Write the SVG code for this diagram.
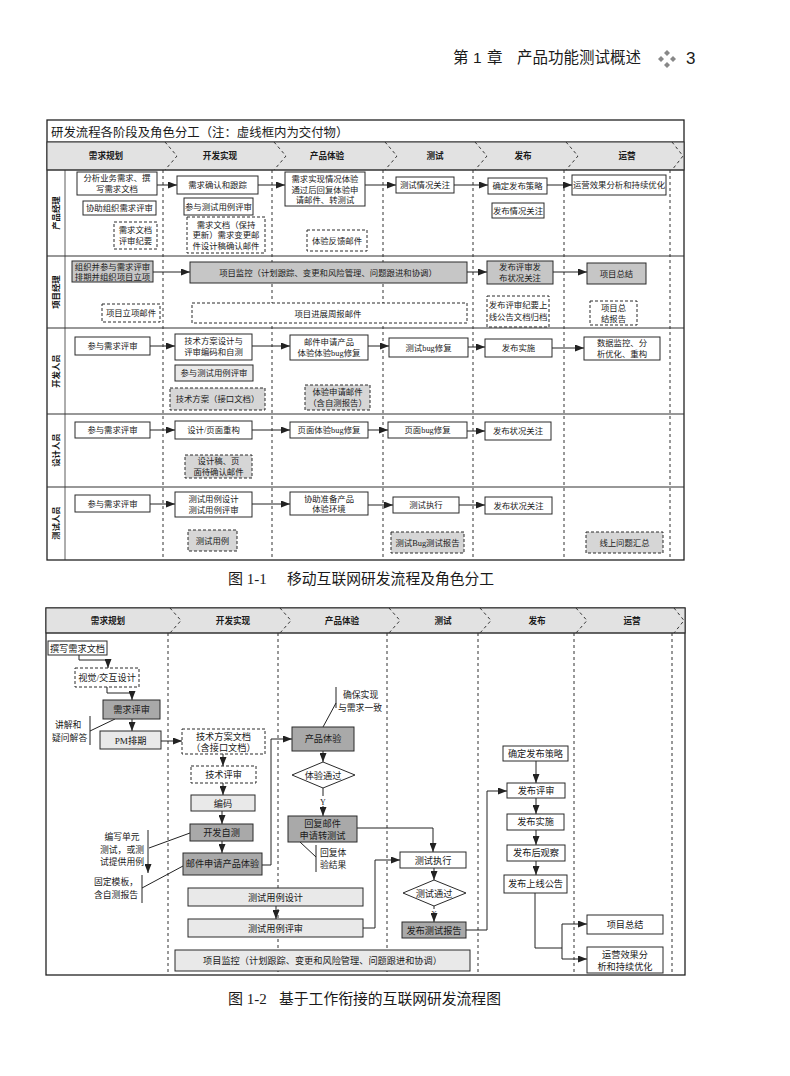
<svg xmlns="http://www.w3.org/2000/svg" width="790" height="1076" viewBox="0 0 790 1076">
<style>
text{font-family:"Liberation Serif","Noto Sans CJK SC",serif;fill:#1a1a1a}
.t{font-size:8.4px;text-anchor:middle}
.t2{font-size:9.2px;text-anchor:middle}
.h{font-family:"Noto Sans CJK SC",sans-serif;font-size:8.6px;font-weight:bold;text-anchor:middle}
.rl{font-family:"Noto Sans CJK SC",sans-serif;font-size:8.4px;font-weight:bold;text-anchor:middle}
.a{font-size:8.8px}
.ph{font-family:"Noto Sans CJK SC",sans-serif;font-size:15.5px}
.b{fill:#fff;stroke:#2a2a2a;stroke-width:1}
.bd{fill:#fff;stroke:#2a2a2a;stroke-width:1;stroke-dasharray:3,2}
.g1{fill:#e9e9e9;stroke:#2a2a2a;stroke-width:1}
.g2{fill:#c6c6c6;stroke:#2a2a2a;stroke-width:1}
.g3{fill:#a9a9a9;stroke:#2a2a2a;stroke-width:1}
.gd{fill:#d6d6d6;stroke:#2a2a2a;stroke-width:1;stroke-dasharray:3,2}
.fr{fill:none;stroke:#222;stroke-width:1.3}
.hd{fill:#e2e2e2;stroke:#333;stroke-width:1}
.dv{fill:none;stroke:#333;stroke-width:1;stroke-dasharray:3,3}
.ln{fill:none;stroke:#333;stroke-width:0.8}
.c{fill:none;stroke:#222;stroke-width:1;marker-end:url(#ar)}
.cn{fill:none;stroke:#222;stroke-width:1}
</style>
<defs>
<marker id="ar" markerUnits="userSpaceOnUse" markerWidth="9" markerHeight="7" refX="9" refY="3.5" orient="auto"><path d="M0,0 L9,3.5 L0,7 z" fill="#222"/></marker>
</defs>
<rect width="790" height="1076" fill="#fff"/>

<!-- page header -->
<g id="page-header">
<text class="ph" x="453" y="63">第</text>
<text class="ph" x="473" y="63" style="font-family:'Liberation Sans',sans-serif">1</text>
<text class="ph" x="487" y="63">章</text>
<text class="ph" x="517" y="63">产品功能测试概述</text>
<g fill="#888"><path d="M667,50 l3,3 l-3,3 l-3,-3z"/><path d="M661,56 l3,3 l-3,3 l-3,-3z"/><path d="M673,56 l3,3 l-3,3 l-3,-3z"/><path d="M667,62 l3,3 l-3,3 l-3,-3z"/></g>
<text x="686" y="64" style="font-family:'Liberation Sans',sans-serif;font-size:17px">3</text>
</g>

<!-- ================= FIGURE 1 ================= -->
<g id="fig1-frame">
<rect class="fr" x="47" y="120" width="637" height="440"/>
<line class="ln" x1="47" y1="142" x2="684" y2="142" style="stroke-width:1.2"/>
<text x="51" y="137" style="font-family:'Noto Sans CJK SC',sans-serif;font-size:12.4px">研发流程各阶段及角色分工（注：虚线框内为交付物）</text>
<rect class="hd" x="47" y="142" width="637" height="28"/>
<line class="ln" x1="47" y1="170" x2="684" y2="170" style="stroke-width:1.2"/>
<line class="ln" x1="65" y1="170" x2="65" y2="560"/>
<line class="ln" x1="47" y1="256" x2="684" y2="256" style="stroke-width:1.1"/>
<line class="ln" x1="47" y1="328" x2="684" y2="328" style="stroke-width:1.1"/>
<line class="ln" x1="47" y1="414" x2="684" y2="414" style="stroke-width:1.1"/>
<line class="ln" x1="47" y1="487" x2="684" y2="487" style="stroke-width:1.1"/>
<path class="dv" d="M165,142 L177,156 L165,170 M163,170 V560"/>
<path class="dv" d="M274,142 L286,156 L274,170 M272,170 V560"/>
<path class="dv" d="M385,142 L397,156 L385,170 M383,170 V560"/>
<path class="dv" d="M475,142 L487,156 L475,170 M473,170 V560"/>
<path class="dv" d="M566,142 L578,156 L566,170 M564,170 V560"/>
<path class="dv" d="M672,142 L683,156 L672,170 M670,170 V560"/>
<text class="h" x="106" y="159">需求规划</text>
<text class="h" x="220" y="159">开发实现</text>
<text class="h" x="327" y="159">产品体验</text>
<text class="h" x="435" y="159">测试</text>
<text class="h" x="523" y="159">发布</text>
<text class="h" x="627" y="159">运营</text>
<text class="rl" transform="translate(59,213) rotate(-90)">产品经理</text>
<text class="rl" transform="translate(59,292) rotate(-90)">项目经理</text>
<text class="rl" transform="translate(59,371) rotate(-90)">开发人员</text>
<text class="rl" transform="translate(59,450) rotate(-90)">设计人员</text>
<text class="rl" transform="translate(59,523) rotate(-90)">测试人员</text>
</g>

<g id="fig1-connectors">
<path class="c" d="M157,185 H177"/>
<path class="c" d="M258,185 H285"/>
<path class="c" d="M365,185 H396"/>
<path class="c" d="M454,185 H488"/>
<path class="c" d="M547,185 H572"/>
<path class="c" d="M153,272 H190"/>
<path class="c" d="M467,272 H487"/>
<path class="c" d="M553,272 H587"/>
<path class="c" d="M150,346 H175"/>
<path class="c" d="M252,346 H290"/>
<path class="c" d="M368,346 H389"/>
<path class="c" d="M468,347 H485"/>
<path class="c" d="M552,348 H584"/>
<path class="c" d="M150,430 H175"/>
<path class="c" d="M252,430 H290"/>
<path class="c" d="M368,430 H388"/>
<path class="c" d="M467,431 H485"/>
<path class="c" d="M150,504 H175"/>
<path class="c" d="M252,504 H290"/>
<path class="c" d="M368,505 H393"/>
<path class="c" d="M459,505 H485"/>
</g>

<!-- row 1 -->
<g id="n1"><rect class="b" x="77" y="172" width="80" height="23"/><text class="t" x="117" y="181">分析业务需求、撰</text><text class="t" x="117" y="191.5">写需求文档</text></g>
<g id="n2"><rect class="b" x="83" y="201" width="73" height="14"/><text class="t" x="119.5" y="211">协助组织需求评审</text></g>
<g id="n3"><rect class="bd" x="114" y="222" width="43" height="27"/><text class="t" x="135.5" y="233">需求文档</text><text class="t" x="135.5" y="244">评审纪要</text></g>
<g id="n4"><rect class="b" x="177" y="176" width="81" height="18"/><text class="t" x="217.5" y="188">需求确认和跟踪</text></g>
<g id="n5"><rect class="b" x="184" y="198" width="69" height="17"/><text class="t" x="218.5" y="209.5">参与测试用例评审</text></g>
<g id="n6"><rect class="bd" x="187" y="217" width="78" height="36"/><text class="t" x="226" y="227.5">需求文档（保持</text><text class="t" x="226" y="238">更新）需求变更邮</text><text class="t" x="226" y="248.5">件设计稿确认邮件</text></g>
<g id="n7"><rect class="b" x="285" y="172" width="80" height="34"/><text class="t" x="325" y="182">需求实现情况体验</text><text class="t" x="325" y="192.5">通过后回复体验申</text><text class="t" x="325" y="203">请邮件、转测试</text></g>
<g id="n8"><rect class="bd" x="307" y="230" width="60" height="21"/><text class="t" x="337" y="243.5">体验反馈邮件</text></g>
<g id="n9"><rect class="b" x="396" y="177" width="58" height="16"/><text class="t" x="425" y="188">测试情况关注</text></g>
<g id="n10"><rect class="b" x="488" y="178" width="59" height="16"/><text class="t" x="517.5" y="189">确定发布策略</text></g>
<g id="n11"><rect class="b" x="492" y="203" width="52" height="15"/><text class="t" x="518" y="213.5">发布情况关注</text></g>
<g id="n12"><rect class="b" x="572" y="175" width="94" height="20"/><text class="t" x="619" y="188">运营效果分析和持续优化</text></g>

<!-- row 2 -->
<g id="m1"><rect class="g2" x="72" y="261" width="81" height="21"/><text class="t" x="112.5" y="269.5">组织并参与需求评审</text><text class="t" x="112.5" y="279.5">排期并组织项目立项</text></g>
<g id="m2"><rect class="g2" x="190" y="262" width="277" height="21"/><text class="t" x="328" y="275.5">项目监控（计划跟踪、变更和风险管理、问题跟进和协调）</text></g>
<g id="m3"><rect class="g2" x="487" y="261" width="66" height="23"/><text class="t" x="520" y="270">发布评审发</text><text class="t" x="520" y="281">布状况关注</text></g>
<g id="m4"><rect class="g2" x="587" y="263" width="59" height="21"/><text class="t" x="616.5" y="276.5">项目总结</text></g>
<g id="m5"><rect class="bd" x="102" y="304" width="58" height="18"/><text class="t" x="131" y="316">项目立项邮件</text></g>
<g id="m6"><rect class="bd" x="192" y="303" width="275" height="20"/><text class="t" x="328" y="316.5">项目进展周报邮件</text></g>
<g id="m7"><rect class="bd" x="487" y="296" width="62" height="31"/><text class="t" x="518" y="308">发布评审纪要上</text><text class="t" x="518" y="320">线公告文档归档</text></g>
<g id="m8"><rect class="bd" x="590" y="301" width="47" height="24"/><text class="t" x="613.5" y="310.5">项目总</text><text class="t" x="613.5" y="321.5">结报告</text></g>

<!-- row 3 -->
<g id="d1"><rect class="b" x="75" y="337" width="75" height="18"/><text class="t" x="112.5" y="349">参与需求评审</text></g>
<g id="d2"><rect class="b" x="175" y="334" width="77" height="26"/><text class="t" x="213.5" y="344">技术方案设计与</text><text class="t" x="213.5" y="355">评审编码和自测</text></g>
<g id="d3"><rect class="b" x="290" y="335" width="78" height="25"/><text class="t" x="329" y="344.5">邮件申请产品</text><text class="t" x="329" y="355.5">体验体验bug修复</text></g>
<g id="d4"><rect class="b" x="389" y="338" width="79" height="19"/><text class="t" x="428.5" y="350.5">测试bug修复</text></g>
<g id="d5"><rect class="b" x="485" y="339" width="67" height="18"/><text class="t" x="518.5" y="351">发布实施</text></g>
<g id="d6"><rect class="b" x="584" y="337" width="76" height="23"/><text class="t" x="622" y="346">数据监控、分</text><text class="t" x="622" y="357">析优化、重构</text></g>
<g id="d7"><rect class="g1" x="175" y="365" width="78" height="16"/><text class="t" x="214" y="376">参与测试用例评审</text></g>
<g id="d8"><rect class="gd" x="170" y="388" width="95" height="22"/><text class="t" x="217.5" y="402">技术方案（接口文档）</text></g>
<g id="d9"><rect class="gd" x="305" y="385" width="65" height="25"/><text class="t" x="337.5" y="395">体验申请邮件</text><text class="t" x="337.5" y="406">（含自测报告）</text></g>

<!-- row 4 -->
<g id="s1"><rect class="b" x="75" y="422" width="75" height="16"/><text class="t" x="112.5" y="433">参与需求评审</text></g>
<g id="s2"><rect class="b" x="175" y="421" width="77" height="18"/><text class="t" x="213.5" y="433">设计/页面重构</text></g>
<g id="s3"><rect class="b" x="290" y="422" width="78" height="16"/><text class="t" x="329" y="433">页面体验bug修复</text></g>
<g id="s4"><rect class="b" x="388" y="422" width="79" height="16"/><text class="t" x="427.5" y="433">页面bug修复</text></g>
<g id="s5"><rect class="b" x="485" y="422" width="66" height="18"/><text class="t" x="518" y="434">发布状况关注</text></g>
<g id="s6"><rect class="gd" x="185" y="455" width="67" height="23"/><text class="t" x="218.5" y="464">设计稿、页</text><text class="t" x="218.5" y="475">面待确认邮件</text></g>

<!-- row 5 -->
<g id="q1"><rect class="b" x="75" y="495" width="75" height="17"/><text class="t" x="112.5" y="506.5">参与需求评审</text></g>
<g id="q2"><rect class="b" x="175" y="492" width="77" height="25"/><text class="t" x="213.5" y="502">测试用例设计</text><text class="t" x="213.5" y="513">测试用例评审</text></g>
<g id="q3"><rect class="b" x="290" y="492" width="78" height="23"/><text class="t" x="329" y="501.5">协助准备产品</text><text class="t" x="329" y="512">体验环境</text></g>
<g id="q4"><rect class="b" x="393" y="497" width="66" height="16"/><text class="t" x="426" y="508">测试执行</text></g>
<g id="q5"><rect class="b" x="485" y="497" width="67" height="17"/><text class="t" x="518.5" y="508.5">发布状况关注</text></g>
<g id="q6"><rect class="gd" x="188" y="530" width="49" height="21"/><text class="t" x="212.5" y="543.5">测试用例</text></g>
<g id="q7"><rect class="gd" x="391" y="532" width="73" height="21"/><text class="t" x="427.5" y="545.5">测试Bug测试报告</text></g>
<g id="q8"><rect class="gd" x="586" y="532" width="77" height="21"/><text class="t" x="624.5" y="545.5">线上问题汇总</text></g>

<g id="caption1"><text x="228" y="584" style="font-size:15px">图 1-1</text><text x="287" y="584" style="font-family:'Noto Sans CJK SC',sans-serif;font-size:14.8px">移动互联网研发流程及角色分工</text></g>

<!-- ================= FIGURE 2 ================= -->
<g id="fig2-frame">
<rect class="fr" x="46" y="608" width="639" height="367"/>
<rect class="hd" x="46" y="608" width="639" height="25"/>
<line class="ln" x1="46" y1="633" x2="685" y2="633" style="stroke-width:1.2"/>
<path class="dv" d="M170,608 L181,620.5 L170,633 M168,633 V975"/>
<path class="dv" d="M280,608 L291,620.5 L280,633 M278,633 V975"/>
<path class="dv" d="M389,608 L400,620.5 L389,633 M387,633 V975"/>
<path class="dv" d="M480,608 L491,620.5 L480,633 M478,633 V975"/>
<path class="dv" d="M576,608 L587,620.5 L576,633 M574,633 V975"/>
<path class="dv" d="M674,608 L684,620.5 L674,633 M672,633 V975"/>
<text class="h" x="108" y="624">需求规划</text>
<text class="h" x="233" y="624">开发实现</text>
<text class="h" x="342" y="624">产品体验</text>
<text class="h" x="443" y="624">测试</text>
<text class="h" x="537" y="624">发布</text>
<text class="h" x="632" y="624">运营</text>
</g>

<g id="fig2-connectors">
<path class="c" d="M79,655 V660 H108 V668"/>
<path class="c" d="M107,687 V693 H132 V700"/>
<path class="c" d="M132,719 V731"/>
<path class="c" d="M161,741 H182"/>
<path class="c" d="M223,754 V766"/>
<path class="c" d="M223,783 V795"/>
<path class="c" d="M222,811 V824"/>
<path class="c" d="M222,841 V853"/>
<path class="c" d="M262,865 H271 V739 H292"/>
<path class="c" d="M323,751 V762"/>
<path class="cn" d="M323,788 V796"/>
<path class="c" d="M323,806 V816"/>
<path class="c" d="M357,828 H433 V852"/>
<path class="c" d="M434,868 V880"/>
<path class="cn" d="M434,906 V909"/>
<path class="c" d="M434,915 V922"/>
<path class="c" d="M363,928 H375 V860 H400"/>
<path class="c" d="M466,930 H487 V791 H507"/>
<path class="c" d="M536,761 V783"/>
<path class="c" d="M536,798 V814"/>
<path class="c" d="M536,830 V845"/>
<path class="c" d="M536,861 V875"/>
<path class="cn" d="M535,893 V948 H562"/>
<path class="cn" d="M562,924 V959"/>
<path class="c" d="M562,924 H587"/>
<path class="c" d="M562,959 H587"/>
<path class="c" d="M276,906 V919"/>
<text x="323" y="805" style="font-size:8px;text-anchor:middle">Y</text>
<text x="434" y="915" style="font-size:7px;text-anchor:middle">Y</text>
</g>

<g id="annotations">
<g id="ann1"><text class="a" x="55" y="728">讲解和</text><text class="a" x="52" y="741">疑问解答</text><path class="cn" d="M90,716 V745 M90,731 L115,719"/></g>
<g id="ann2"><text class="a" x="343" y="698">确保实现</text><text class="a" x="338" y="711">与需求一致</text><path class="cn" d="M336,687 V708 M336,703 L323,727"/></g>
<g id="ann3"><text class="a" x="320" y="856">回复体</text><text class="a" x="320" y="868">验结果</text><path class="cn" d="M316,845 V872 M316,857 L300,842"/></g>
<g id="ann4"><text class="a" x="122" y="840" style="text-anchor:middle">编写单元</text><text class="a" x="122" y="852.5" style="text-anchor:middle">测试，或测</text><text class="a" x="122" y="865" style="text-anchor:middle">试提供用例</text><path class="c" d="M148,830 V873"/><path class="cn" d="M149,848 L190,833"/></g>
<g id="ann5"><text class="a" x="116" y="885" style="text-anchor:middle">固定模板，</text><text class="a" x="116" y="898" style="text-anchor:middle">含自测报告</text><path class="cn" d="M142,875 V903 M142,888 L183,866"/></g>
</g>

<g id="f1"><rect class="b" x="48" y="641" width="59" height="14"/><text class="t2" x="77.5" y="651.5">撰写需求文档</text></g>
<g id="f2"><rect class="bd" x="75" y="668" width="64" height="19"/><text class="t2" x="107" y="681">视觉/交互设计</text></g>
<g id="f3"><rect class="g3" x="103" y="700" width="57" height="19"/><text class="t2" x="131.5" y="713">需求评审</text></g>
<g id="f4"><rect class="g1" x="100" y="731" width="61" height="18"/><text class="t2" x="130.5" y="743.5">PM排期</text></g>
<g id="f5"><rect class="bd" x="182" y="729" width="83" height="25"/><text class="t2" x="223.5" y="739.5">技术方案文档</text><text class="t2" x="223.5" y="751">（含接口文档）</text></g>
<g id="f6"><rect class="bd" x="191" y="766" width="65" height="17"/><text class="t2" x="223.5" y="778">技术评审</text></g>
<g id="f7"><rect class="g1" x="191" y="795" width="64" height="16"/><text class="t2" x="223" y="806.5">编码</text></g>
<g id="f8"><rect class="g3" x="190" y="824" width="63" height="17"/><text class="t2" x="221.5" y="836">开发自测</text></g>
<g id="f9"><rect class="g3" x="183" y="853" width="79" height="22"/><text class="t2" x="222.5" y="867">邮件申请产品体验</text></g>
<g id="f10"><rect class="g3" x="292" y="727" width="62" height="24"/><text class="t2" x="323" y="742">产品体验</text></g>
<g id="f11"><polygon class="b" points="292,775 323,762 355,775 323,788"/><text class="t2" x="323" y="778.5">体验通过</text></g>
<g id="f12"><rect class="g3" x="288" y="816" width="69" height="26"/><text class="t2" x="322.5" y="826.5">回复邮件</text><text class="t2" x="322.5" y="838.5">申请转测试</text></g>
<g id="f13"><rect class="b" x="400" y="852" width="66" height="16"/><text class="t2" x="433" y="863.5">测试执行</text></g>
<g id="f14"><polygon class="b" points="403,893 434,880 466,893 434,906"/><text class="t2" x="434" y="896.5">测试通过</text></g>
<g id="f15"><rect class="g3" x="402" y="922" width="64" height="16"/><text class="t2" x="434" y="933.5">发布测试报告</text></g>
<g id="f16"><rect class="b" x="503" y="746" width="65" height="15"/><text class="t2" x="535.5" y="756.5">确定发布策略</text></g>
<g id="f17"><rect class="b" x="507" y="783" width="58" height="15"/><text class="t2" x="536" y="793.5">发布评审</text></g>
<g id="f18"><rect class="b" x="507" y="814" width="57" height="16"/><text class="t2" x="535.5" y="825">发布实施</text></g>
<g id="f19"><rect class="b" x="507" y="845" width="58" height="16"/><text class="t2" x="536" y="856">发布后观察</text></g>
<g id="f20"><rect class="b" x="504" y="875" width="63" height="18"/><text class="t2" x="535.5" y="887">发布上线公告</text></g>
<g id="f21"><rect class="b" x="587" y="915" width="76" height="19"/><text class="t2" x="625" y="927.5">项目总结</text></g>
<g id="f22"><rect class="b" x="587" y="947" width="76" height="26"/><text class="t2" x="625" y="957.5">运营效果分</text><text class="t2" x="625" y="969.5">析和持续优化</text></g>
<g id="f23"><rect class="g1" x="188" y="888" width="175" height="18"/><text class="t2" x="275.5" y="900.5">测试用例设计</text></g>
<g id="f24"><rect class="g1" x="188" y="919" width="175" height="18"/><text class="t2" x="275.5" y="931.5">测试用例评审</text></g>
<g id="f25"><rect class="g1" x="175" y="950" width="295" height="21"/><text class="t2" x="322.5" y="964">项目监控（计划跟踪、变更和风险管理、问题跟进和协调）</text></g>

<g id="caption2"><text x="228" y="1004" style="font-size:15px">图 1-2</text><text x="279" y="1004" style="font-family:'Noto Sans CJK SC',sans-serif;font-size:14.8px">基于工作衔接的互联网研发流程图</text></g>
</svg>
